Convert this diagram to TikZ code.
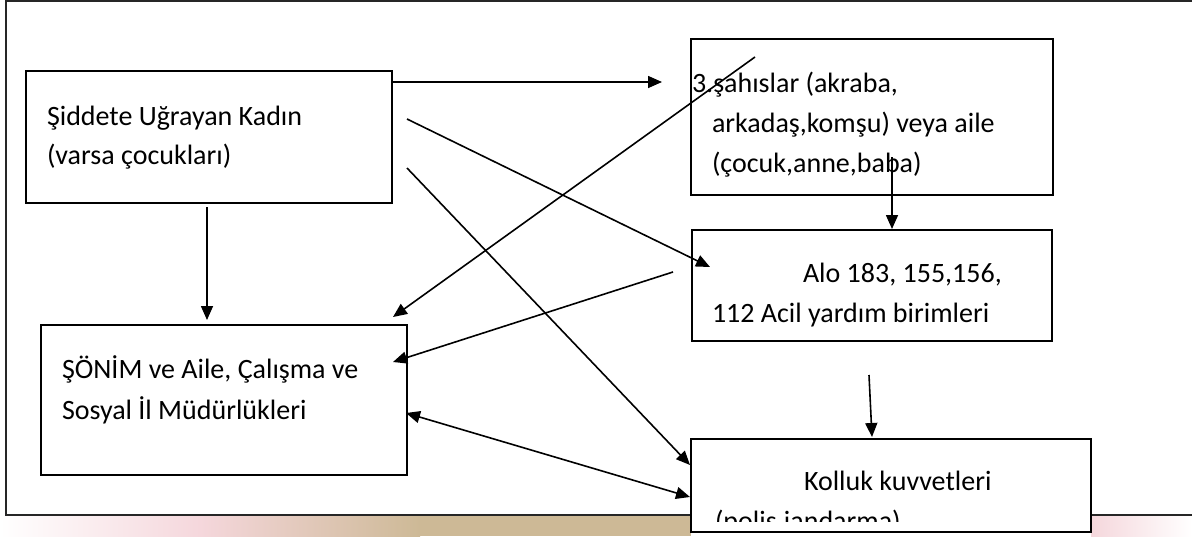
\documentclass[tikz,border=0pt]{standalone}
\usepackage{fontspec}
\setmainfont{Carlito}
\usetikzlibrary{arrows.meta}
\definecolor{tanbg}{RGB}{205,185,150}
\definecolor{pinkbg}{RGB}{245,215,220}
\tikzset{
  box/.style={draw=black, line width=2pt, fill=white, inner sep=0pt, outer sep=0pt},
  txt/.style={anchor=base west, inner sep=0pt, outer sep=0pt, font=\fontsize{28}{40}\selectfont},
  arr/.style={line width=1.6pt, -{Triangle[length=14pt,width=12pt]}},
  darr/.style={line width=1.6pt, {Triangle[length=14pt,width=12pt]}-{Triangle[length=14pt,width=12pt]}},
  frameline/.style={draw=black!85, line width=2pt},
}
\begin{document}
\begin{tikzpicture}[x=1pt,y=-1pt]
\useasboundingbox (0,0) rectangle (1192,536);
% faded background strip below the frame
\shade[left color=white, right color=pinkbg] (0,515) rectangle (200,536);
\shade[left color=pinkbg, right color=tanbg] (200,515) rectangle (420,536);
\fill[tanbg] (420,515) rectangle (691,536);
\shade[left color=pinkbg, right color=white] (1091,515) rectangle (1192,536);
% frame
\draw[frameline] (1192,1) -- (6,1) -- (6,515) -- (1192,515);

% boxes
\node[box, minimum width=366pt, minimum height=132pt] (A) at (209,137) {};
\node[box, minimum width=362pt, minimum height=156pt] (B) at (872,117) {};
\node[box, minimum width=360pt, minimum height=111pt] (C) at (872,285.5) {};
\node[box, minimum width=366pt, minimum height=150pt] (D) at (224,400) {};
\node[box, minimum width=400pt, minimum height=93pt] (E) at (891,485.5) {};

% texts
\node[txt] (a1) at (47,125) {Şiddete Uğrayan Kadın};
\node[txt] (a2) at (47,164) {(varsa çocukları)};
\node[txt] (b1) at (692,92) {3.şahıslar (akraba,};
\node[txt] (b2) at (712,132) {arkadaş,komşu) veya aile};
\node[txt] (b3) at (712,172) {(çocuk,anne,baba)};
\node[txt] (c1) at (803,282) {Alo 183, 155,156,};
\node[txt] (c2) at (712,322) {112 Acil yardım birimleri};
\node[txt] (d1) at (62,378) {ŞÖNİM ve Aile, Çalışma ve};
\node[txt] (d2) at (62,419) {Sosyal İl Müdürlükleri};
\node[txt] (e1) at (804,490) {Kolluk kuvvetleri};
\begin{scope}
  \clip (691,439) rectangle (1091,521);
  \node[txt] (e2) at (715,530) {(polis,jandarma)};
\end{scope}

% connector end points
\coordinate (ab0) at (392,82);   \coordinate (ab1) at (662,82);
\coordinate (ac0) at (407,119);  \coordinate (ac1) at (710,267);
\coordinate (ae0) at (407,168);  \coordinate (ae1) at (690,465);
\coordinate (ad0) at (207,207);  \coordinate (ad1) at (207,320);
\coordinate (bd0) at (755,57);   \coordinate (bd1) at (393,317);
\coordinate (bc0) at (892,157);  \coordinate (bc1) at (892,229);
\coordinate (cd0) at (673,272);  \coordinate (cd1) at (393,362);
\coordinate (ce0) at (869,375);  \coordinate (ce1) at (872,437);
\coordinate (de0) at (406,413);  \coordinate (de1) at (690,497);

% connectors
\draw[arr] (ab0) -- (ab1);
\draw[arr] (ac0) -- (ac1);
\draw[arr] (ae0) -- (ae1);
\draw[arr] (ad0) -- (ad1);
\draw[arr] (bd0) -- (bd1);
\draw[arr] (bc0) -- (bc1);
\draw[arr] (cd0) -- (cd1);
\draw[arr] (ce0) -- (ce1);
\draw[darr] (de0) -- (de1);
\end{tikzpicture}
\end{document}
